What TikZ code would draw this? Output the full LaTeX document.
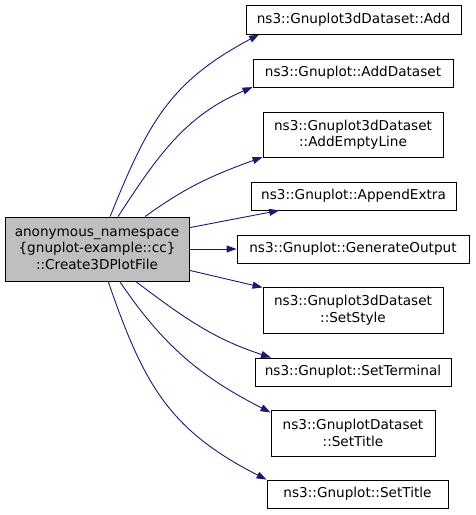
\documentclass[tikz,border=0pt]{standalone}
\usepackage{fontspec}
\setmainfont{DejaVu Sans}
\usetikzlibrary{arrows.meta}
\definecolor{edgeblue}{HTML}{191970}
\definecolor{mainfill}{HTML}{BFBFBF}

\begin{document}
\begin{tikzpicture}[x=1pt, y=1pt, >={Triangle[length=10pt,width=7pt]}]
\tikzstyle{every node}=[draw, shape=rectangle, align=center, inner sep=0pt, line width=0.9pt, font=\fontsize{13.6}{16.5}\selectfont];
\tikzstyle{call}=[->, draw=edgeblue, line width=0.9pt];
\useasboundingbox (0,0) rectangle (475,-515);
\node[fill=mainfill, minimum width=184, minimum height=64] (create) at (97,-249) {anonymous\_namespace\\\{gnuplot-example::cc\}\\::Create3DPlotFile};
\node[minimum width=215, minimum height=29] (add) at (353.5,-19.5) {ns3::Gnuplot3dDataset::Add};
\node[minimum width=200, minimum height=28] (adddataset) at (353,-73) {ns3::Gnuplot::AddDataset};
\node[minimum width=180, minimum height=45] (addemptyline) at (353,-134.5) {ns3::Gnuplot3dDataset\\::AddEmptyLine};
\node[minimum width=205, minimum height=28] (appendextra) at (353.5,-196) {ns3::Gnuplot::AppendExtra};
\node[minimum width=232, minimum height=28] (genoutput) at (353,-249) {ns3::Gnuplot::GenerateOutput};
\node[minimum width=180, minimum height=46] (setstyle) at (353,-310) {ns3::Gnuplot3dDataset\\::SetStyle};
\node[minimum width=196, minimum height=28] (setterminal) at (353,-372) {ns3::Gnuplot::SetTerminal};
\node[minimum width=164, minimum height=46] (dsettitle) at (353,-433) {ns3::GnuplotDataset\\::SetTitle};
\node[minimum width=181, minimum height=28] (settitle) at (357.5,-494) {ns3::Gnuplot::SetTitle};
\draw [call] (create.68) to[out=68, in=208, looseness=1.1] (add.189);
\draw [call] (create.57) to[out=57, in=203] (adddataset.188);
\draw [call] (create.34) to[out=36, in=200] (addemptyline.194);
\draw [call] (create.13) -- (appendextra.191);
\draw [call] (create.east) -- (genoutput.west);
\draw [call] (create.-13) -- (setstyle.166);
\draw [call] (create.-40) to[out=-37, in=162] (setterminal.170);
\draw [call] (create.-55) to[out=-56, in=153] (dsettitle.166);
\draw [call] (create.-71) to[out=-71, in=153, looseness=1.1] (settitle.171);
\end{tikzpicture}
\end{document}
